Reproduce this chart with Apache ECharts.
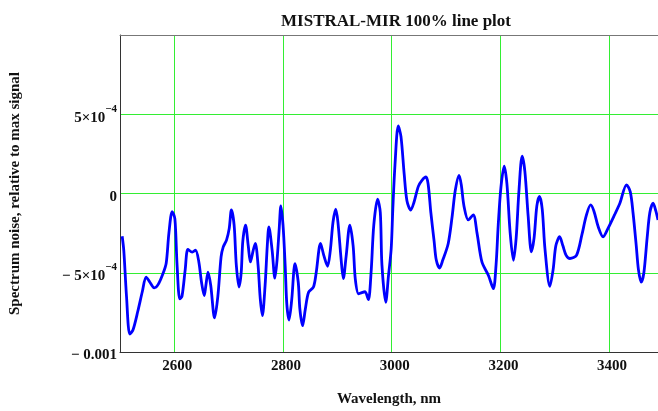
<!DOCTYPE html>
<html>
<head>
<meta charset="utf-8">
<script src="https://cdn.jsdelivr.net/npm/echarts@6/dist/echarts.min.js"></script>
<style>
html,body{margin:0;padding:0;background:#fff;}
#chart{width:658px;height:411px;}
</style>
</head>
<body>
<div id="chart"></div>
<script>
// Wavelength (nm)
const wavelength = [
  2504, 2507, 2512, 2518, 2524, 2533, 2541, 2548, 2555, 2563,
  2570, 2579, 2585, 2590, 2596, 2601, 2605, 2610, 2614, 2620,
  2625, 2633, 2639, 2645, 2650, 2655, 2658, 2662, 2667, 2674,
  2680, 2686, 2690, 2696, 2701, 2705, 2710, 2714, 2719, 2723,
  2726, 2731, 2736, 2740, 2745, 2749, 2754, 2758, 2762, 2767,
  2771, 2774, 2780, 2785, 2789, 2793, 2796, 2800, 2804, 2807,
  2811, 2816, 2822, 2828, 2831, 2836, 2841, 2847, 2856, 2861,
  2869, 2875, 2882, 2887, 2892, 2897, 2901, 2907, 2911, 2916,
  2923, 2929, 2933, 2939, 2945, 2951, 2957, 2962, 2967, 2974,
  2979, 2982, 2989, 2994, 2999, 3002, 3006, 3012, 3017, 3023,
  3028, 3035, 3041, 3049, 3056, 3063, 3067, 3072, 3078, 3082,
  3088, 3094, 3104, 3111, 3117, 3124, 3128, 3133, 3141, 3150,
  3157, 3166, 3178, 3187, 3192, 3196, 3201, 3207, 3212, 3218,
  3224, 3229, 3234, 3240, 3245, 3251, 3257, 3262, 3267, 3272,
  3277, 3282, 3291, 3297, 3302, 3309, 3315, 3321, 3328, 3340,
  3350, 3358, 3366, 3372, 3380, 3389, 3398, 3410, 3420, 3432,
  3439, 3444, 3450, 3454, 3459, 3464, 3470, 3475, 3481, 3486,
  3490
];
// Spectrum noise, relative to max signal
const noise = [
  -2.7e-4, -3.6e-4, -6.5e-4, -8.87e-4, -8.6e-4, -7.4e-4, -6.2e-4, -5.27e-4, -5.6e-4, -5.95e-4,
  -5.75e-4, -5.06e-4, -4.4e-4, -2.5e-4, -1.14e-4, -1.6e-4, -4.5e-4, -6.65e-4, -6.5e-4, -4.8e-4,
  -3.53e-4, -3.7e-4, -3.58e-4, -4.3e-4, -5.6e-4, -6.44e-4, -5.8e-4, -4.96e-4, -5.8e-4, -7.85e-4,
  -6.5e-4, -4.0e-4, -3.37e-4, -2.94e-4, -2.2e-4, -1.04e-4, -2.0e-4, -4.5e-4, -5.9e-4, -5.0e-4,
  -3.0e-4, -1.99e-4, -3.3e-4, -4.32e-4, -3.6e-4, -3.15e-4, -4.5e-4, -6.6e-4, -7.7e-4, -5.8e-4,
  -3.3e-4, -2.1e-4, -3.6e-4, -5.34e-4, -4.2e-4, -2.2e-4, -0.78e-4, -2.0e-4, -4.6e-4, -7.0e-4,
  -7.98e-4, -6.7e-4, -4.42e-4, -5.6e-4, -7.3e-4, -8.34e-4, -7.3e-4, -6.23e-4, -5.9e-4, -5.0e-4,
  -3.15e-4, -3.9e-4, -4.59e-4, -3.6e-4, -1.8e-4, -0.99e-4, -1.8e-4, -4.2e-4, -5.37e-4, -4.0e-4,
  -1.99e-4, -3.3e-4, -5.4e-4, -6.33e-4, -6.25e-4, -6.2e-4, -6.7e-4, -5.0e-4, -2.0e-4, -0.36e-4,
  -1.2e-4, -4.5e-4, -6.86e-4, -5.2e-4, -3.5e-4, -1.0e-4, 1.8e-4, 4.26e-4, 3.6e-4, 1.2e-4,
  -0.45e-4, -1.04e-4, -0.55e-4, 0.45e-4, 0.85e-4, 1.04e-4, 0.6e-4, -1.2e-4, -3.0e-4, -4.2e-4,
  -4.7e-4, -4.2e-4, -3.15e-4, -1.5e-4, 0.2e-4, 1.14e-4, 0.55e-4, -0.8e-4, -1.67e-4, -1.35e-4,
  -2.5e-4, -4.32e-4, -5.17e-4, -6.0e-4, -4.5e-4, -1.99e-4, 0.4e-4, 1.72e-4, 0.6e-4, -2.5e-4,
  -4.21e-4, -2.8e-4, 0.1e-4, 2.35e-4, 1.4e-4, -1.4e-4, -3.68e-4, -2.8e-4, -0.8e-4, -0.19e-4,
  -1.0e-4, -3.5e-4, -5.86e-4, -4.8e-4, -3.3e-4, -2.73e-4, -3.3e-4, -3.9e-4, -4.1e-4, -3.9e-4,
  -2.6e-4, -1.4e-4, -0.72e-4, -1.1e-4, -2.1e-4, -2.73e-4, -2.2e-4, -1.35e-4, -0.6e-4, 0.55e-4,
  0.1e-4, -1.2e-4, -3.3e-4, -4.8e-4, -5.59e-4, -5.0e-4, -2.8e-4, -1.2e-4, -0.61e-4, -1.1e-4,
  -1.67e-4
];
// Tick labels
const xTickValues = [2600, 2800, 3000, 3200, 3400];
const xTickLabels = ['2600', '2800', '3000', '3200', '3400'];
const yTickValues = [-0.001, -0.0005, 0, 0.0005];
const yTickLabels = ['{m|− 0.001}', '{m|− 5×10}{s|−4}', '{m|0}', '{m|5×10}{s|−4}'];

const FONT = 'Liberation Serif';
const chart = echarts.init(document.getElementById('chart'));
chart.setOption({
  animation: false,
  backgroundColor: '#ffffff',
  title: {
    text: 'MISTRAL-MIR 100% line plot',
    left: 391, top: 8, textAlign: 'center',
    textStyle: {fontFamily: FONT, fontWeight: 'bold', fontSize: 17, color: '#111'}
  },
  grid: {left: 120, right: 0, top: 35, bottom: 59, outerBoundsMode: 'none', containLabel: false},
  xAxis: [{
    type: 'value', min: 2500, max: 3490, interval: 100,
    position: 'bottom',
    name: 'Wavelength, nm', nameLocation: 'middle', nameGap: 40,
    nameTextStyle: {fontFamily: FONT, fontWeight: 'bold', fontSize: 15, color: '#111'},
    axisLine: {show: true, onZero: false, lineStyle: {color: '#333', width: 1}},
    axisTick: {show: false},
    axisLabel: {
      margin: 7, padding: [0, 0, 0, 6],
      fontFamily: FONT, fontWeight: 'bold', fontSize: 15, color: '#111',
      formatter: function (v) {
        for (let i = 0; i < xTickValues.length; i++) {
          if (Math.abs(v - xTickValues[i]) < 1e-6) return xTickLabels[i];
        }
        return '';
      }
    },
    splitLine: {show: true, lineStyle: {color: ['rgba(0,0,0,0)', '#33ee33'], width: 1}}
  }, {
    type: 'value', min: 2500, max: 3490, position: 'top',
    axisLine: {show: true, onZero: false, lineStyle: {color: '#777', width: 1}},
    axisTick: {show: false}, axisLabel: {show: false}, splitLine: {show: false}
  }],
  yAxis: {
    type: 'value', min: -0.001, max: 0.001, interval: 0.0005,
    name: 'Spectrum noise, relative to max signal', nameLocation: 'middle', nameGap: 97,
    nameTextStyle: {fontFamily: FONT, fontWeight: 'bold', fontSize: 15, color: '#111'},
    axisLine: {show: true, onZero: false, lineStyle: {color: '#333', width: 1}},
    axisTick: {show: false},
    axisLabel: {
      margin: 3,
      formatter: function (v) {
        for (let i = 0; i < yTickValues.length; i++) {
          if (Math.abs(v - yTickValues[i]) < 1e-9) return yTickLabels[i];
        }
        return '';
      },
      rich: {
        m: {fontFamily: FONT, fontWeight: 'bold', fontSize: 15, color: '#111', lineHeight: 22, verticalAlign: 'bottom'},
        s: {fontFamily: FONT, fontWeight: 'bold', fontSize: 11, color: '#111', lineHeight: 8, verticalAlign: 'top'}
      }
    },
    splitLine: {show: true, showMinLine: false, showMaxLine: false, lineStyle: {color: '#33ee33', width: 1}}
  },
  series: [{
    type: 'line',
    data: wavelength.map((w, i) => [w, noise[i]]),
    showSymbol: false,
    smooth: 0.3,
    lineStyle: {color: '#0000ff', width: 2.8},
    clip: true
  }]
});
</script>
</body>
</html>
